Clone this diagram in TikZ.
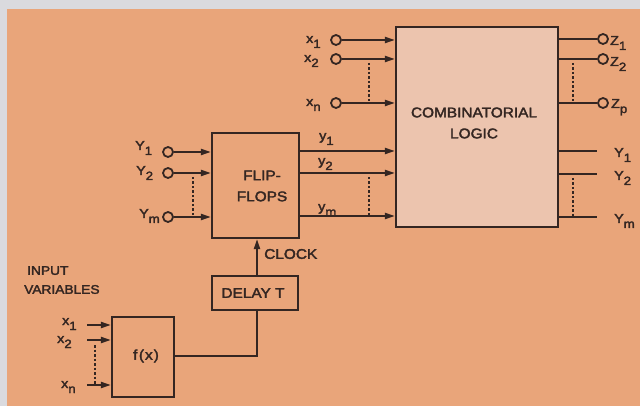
\documentclass[tikz,border=0pt]{standalone}
\usepackage{fontspec}
\setmainfont{Liberation Sans}[FakeStretch=1.1,FakeBold=2.5]
\usetikzlibrary{arrows.meta}
\definecolor{bg}{RGB}{233,165,122}
\definecolor{boxfill}{RGB}{236,196,174}
\definecolor{strip}{RGB}{218,218,222}
\definecolor{ink}{RGB}{52,38,34}
\newcommand\lsub[2]{#1\raisebox{-5pt}{\fontsize{12}{12}\selectfont #2}}
\tikzset{
  wire/.style={draw=ink, line width=2pt},
  arr/.style={wire, -{Triangle[length=10pt,width=6pt]}},
  port/.style={circle, draw=ink, line width=1.8pt, fill=bg, inner sep=0pt, minimum size=10pt},
  dots/.style={draw=ink, line width=1.8pt, dash pattern=on 2.5pt off 2pt},
  blk/.style={draw=ink, line width=2.2pt, inner sep=0pt},
  lbl/.style={font=\fontsize{13}{13}\selectfont, inner sep=0pt, anchor=base west, text=ink},
  big/.style={font=\fontsize{14}{21}\selectfont, align=center, inner sep=0pt, text=ink}
}
\begin{document}
\begin{tikzpicture}[x=1pt,y=-1pt]
\fill[bg] (0,0) rectangle (640,406);
\fill[strip] (0,0) rectangle (7,406);
\fill[strip] (0,0) rectangle (640,9);
\useasboundingbox (0,0) rectangle (640,406);

% combinatorial logic
\node[blk, fill=boxfill, minimum width=162pt, minimum height=200pt] (CL) at (477,127) {};
\node[big] (CLt) at (474,123) {COMBINATORIAL\\LOGIC};

% x inputs to CL
\node[port] (cx1) at (336,40) {};
\node[port] (cx2) at (336,59) {};
\node[port] (cxn) at (336,103) {};
\draw[arr] (cx1.east) -- (cx1 -| CL.west);
\draw[arr] (cx2.east) -- (cx2 -| CL.west);
\draw[arr] (cxn.east) -- (cxn -| CL.west);
\node[lbl] (lx1) at (306,43) {\lsub{x}{1}};
\node[lbl] (lx2) at (304,62) {\lsub{x}{2}};
\node[lbl] (lxn) at (306,106) {\lsub{x}{n}};
\draw[dots] (369,63) -- (369,103);

% Z outputs
\node[port] (cz1) at (603,39) {};
\node[port] (cz2) at (603,59) {};
\node[port] (czp) at (603,103) {};
\draw[wire] (cz1 -| CL.east) -- (cz1.west);
\draw[wire] (cz2 -| CL.east) -- (cz2.west);
\draw[wire] (czp -| CL.east) -- (czp.west);
\node[lbl] (lz1) at (610,45) {\lsub{Z}{1}};
\node[lbl] (lz2) at (610,66) {\lsub{Z}{2}};
\node[lbl] (lzp) at (611,108) {\lsub{Z}{p}};
\draw[dots] (573,63) -- (573,103);

% Y outputs
\coordinate (oY1) at (597,151);
\coordinate (oY2) at (597,174);
\coordinate (oYm) at (597,217);
\draw[wire] (oY1 -| CL.east) -- (oY1);
\draw[wire] (oY2 -| CL.east) -- (oY2);
\draw[wire] (oYm -| CL.east) -- (oYm);
\node[lbl] (lY1o) at (614,157) {\lsub{Y}{1}};
\node[lbl] (lY2o) at (614,180) {\lsub{Y}{2}};
\node[lbl] (lYmo) at (614,223) {\lsub{Y}{m}};
\draw[dots] (573,178) -- (573,217);

% flip-flops
\node[blk, minimum width=87pt, minimum height=105pt] (FF) at (255.5,185.5) {};
\node[big] (FFt) at (262,186) {FLIP-\\FLOPS};
\coordinate (fy1) at (299,151);
\coordinate (fy2) at (299,173);
\coordinate (fym) at (299,216);
\draw[arr] (fy1 -| FF.east) -- (fy1 -| CL.west);
\draw[arr] (fy2 -| FF.east) -- (fy2 -| CL.west);
\draw[arr] (fym -| FF.east) -- (fym -| CL.west);
\node[lbl] (ly1) at (319,140) {\lsub{y}{1}};
\node[lbl] (ly2) at (318,165) {\lsub{y}{2}};
\node[lbl] (lym) at (318,211) {\lsub{y}{m}};
\draw[dots] (369,177) -- (369,216);

% Y inputs to FF
\node[port] (iY1) at (168,152) {};
\node[port] (iY2) at (168,173) {};
\node[port] (iYm) at (168,217) {};
\draw[arr] (iY1.east) -- (iY1 -| FF.west);
\draw[arr] (iY2.east) -- (iY2 -| FF.west);
\draw[arr] (iYm.east) -- (iYm -| FF.west);
\node[lbl] (lY1i) at (135,150) {\lsub{Y}{1}};
\node[lbl] (lY2i) at (136,175) {\lsub{Y}{2}};
\node[lbl] (lYmi) at (139,218) {\lsub{Y}{m}};
\draw[dots] (193,177) -- (193,217);

% delay and clock
\node[blk, minimum width=86pt, minimum height=34pt] (DL) at (255,293) {};
\node[big] (DLt) at (253,293) {DELAY T};
\draw[arr] (DL.north -| 257,0) -- (FF.south -| 257,0);
\node[big, anchor=west] (clk) at (264,254) {CLOCK};

% f(x)
\node[blk, minimum width=62pt, minimum height=80pt] (FX) at (143,357) {};
\node[big] (FXt) at (146,356) {f\kern1.5pt(\kern1pt x\kern1pt)};
\draw[wire] (FX.east |- 0,356) -| (DL.south -| 257,0);
\coordinate (fi1) at (87,325);
\coordinate (fi2) at (87,340);
\coordinate (fin) at (87,385);
\draw[arr] (fi1) -- (fi1 -| FX.west);
\draw[arr] (fi2) -- (fi2 -| FX.west);
\draw[arr] (fin) -- (fin -| FX.west);
\node[lbl] (lfx1) at (62,325) {\lsub{x}{1}};
\node[lbl] (lfx2) at (57,343) {\lsub{x}{2}};
\node[lbl] (lfxn) at (61,388) {\lsub{x}{n}};
\draw[dots] (95,345) -- (95,385);
\node[big, font=\fontsize{12.5}{19}\selectfont, align=left, anchor=north west] (iv) at (24,266) {\hspace*{3pt}INPUT\\VARIABLES};
\end{tikzpicture}
\end{document}
